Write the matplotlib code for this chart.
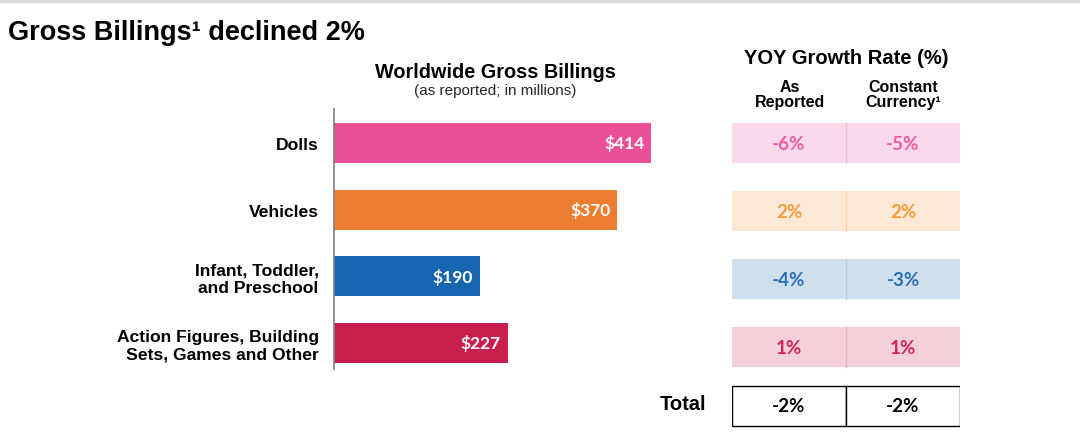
import matplotlib.pyplot as plt
from matplotlib.patches import Rectangle

# data
categories = ['Dolls', 'Vehicles', 'Infant, Toddler,\nand Preschool',
              'Action Figures, Building\nSets, Games and Other']
billings = [414, 370, 190, 227]
as_reported = ['-6%', '2%', '-4%', '1%']
constant_cc = ['-5%', '2%', '-3%', '1%']
total_row = ['-2%', '-2%']

bar_colors = ['#EA4F97', '#ED7D31', '#1866B1', '#C91F4E']
cell_colors = ['#FADAEA', '#FDE8D5', '#CFDFEE', '#F3CFDA']
text_colors = ['#EC5CA0', '#F29B3A', '#2A6FB6', '#D0245A']
line_colors = ['#F2B9D5', '#F9D3B0', '#B3CBE3', '#E9AFC1']

LABEL = 'Liberation Sans'
NUM = 'Lato'

W, H = 1080, 435
fig = plt.figure(figsize=(W / 100, H / 100), dpi=100)


def px_axes(x0, y0, x1, y1):
    return fig.add_axes([x0 / W, 1 - y1 / H, (x1 - x0) / W, (y1 - y0) / H])


# thin gray rule at the top
fig.add_artist(plt.Line2D([0, 1], [1 - 1.5 / H, 1 - 1.5 / H], color='#D9D9D9', lw=3))

fig.text(8 / W, 1 - 33 / H, 'Gross Billings\u00b9 declined 2%', fontsize=19.5,
         fontweight='bold', family=LABEL, va='center', ha='left')

# bar chart
ax = px_axes(334, 110, 334 + 500 * 0.766, 370)
y = list(range(len(categories)))
ax.barh(y, billings, height=0.6, color=bar_colors)
ax.set_xlim(0, 500)
ax.set_ylim(3.39, -0.51)
for s in ['top', 'right', 'bottom']:
    ax.spines[s].set_visible(False)
ax.spines['left'].set_color('#7F7F7F')
ax.spines['left'].set_linewidth(1.2)
ax.set_xticks([])
ax.set_yticks(y)
ax.set_yticklabels(categories, fontsize=12.6, fontweight='bold', family=LABEL,
                   linespacing=1.15)
ax.tick_params(axis='y', length=0, pad=11)
for yi, v in zip(y, billings):
    ax.text(v - 9, yi, f'${v}', color='white', fontsize=12.5, fontweight='bold',
            family=NUM, ha='right', va='center')

fig.text(495 / W, 1 - 73 / H, 'Worldwide Gross Billings', fontsize=14.3,
         fontweight='bold', family=LABEL, ha='center', va='center')
fig.text(495 / W, 1 - 91 / H, '(as reported; in millions)', fontsize=11,
         family=LABEL, color='#262626', ha='center', va='center')

# growth rate table
tx = px_axes(732, 110, 960, 435)
tx.set_xlim(0, 2)
tx.set_ylim((435 - 144) / 68, (110 - 144) / 68)
tx.axis('off')
for i in range(len(categories)):
    for c, txt in enumerate([as_reported[i], constant_cc[i]]):
        tx.add_patch(Rectangle((c, i - 0.3), 1, 0.6, facecolor=cell_colors[i],
                               edgecolor='none'))
        tx.text(c + 0.5, i, txt, color=text_colors[i], fontsize=13.5,
                fontweight='bold', family=NUM, ha='center', va='center')
    tx.plot([1, 1], [i - 0.3, i + 0.3], color=line_colors[i], lw=1)

ty = (407 - 144) / 68
for c, txt in enumerate(total_row):
    tx.add_patch(Rectangle((c, ty - 0.3), 1, 0.6, facecolor='white',
                           edgecolor='black', lw=1))
    tx.text(c + 0.5, ty, txt, color='black', fontsize=13.5, fontweight='bold',
            family=NUM, ha='center', va='center')
fig.text(706 / W, 1 - 405 / H, 'Total', fontsize=14.5, fontweight='bold',
         family=LABEL, ha='right', va='center')

fig.text(846 / W, 1 - 58 / H, 'YOY Growth Rate (%)', fontsize=14.5,
         fontweight='bold', family=LABEL, ha='center', va='center')
fig.text(790 / W, 1 - 95 / H, 'As\nReported', fontsize=11.5, fontweight='bold',
         family=LABEL, ha='center', va='center', linespacing=1.0)
fig.text(903 / W, 1 - 95 / H, 'Constant\nCurrency\u00b9', fontsize=11.5,
         fontweight='bold', family=LABEL, ha='center', va='center', linespacing=1.0)

fig.savefig('out.png', dpi=100)
